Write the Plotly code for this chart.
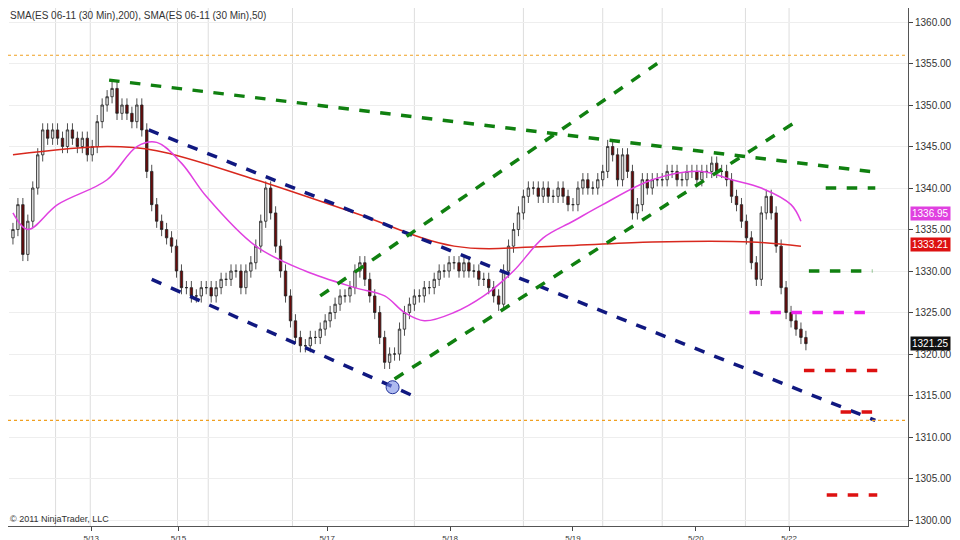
import plotly.graph_objects as go

closes = [1335,1338,1332,1336,1340,1344,1347,1346,1347,1346,1345,1347,1346,1345,1346,1344,1345,1348,1350,1351,
1352,1349,1350,1349,1348,1350,1347,1342,1338,1336,1335,1334,1333,1330,1328,1328,1327,1327,1328,1328,
1327,1328,1329,1329,1330,1330,1328,1330,1331,1333,1336,1340,1337,1333,1330,1327,1324,1322,1321,1321,
1322,1322,1323,1324,1325,1326,1327,1327,1328,1330,1331,1329,1327,1325,1322,1319,1320,1320,1323,1325,
1326,1327,1327,1328,1328,1329,1330,1330,1331,1331,1330,1331,1330,1330,1329,1329,1328,1327,1326,1330,
1333,1335,1337,1339,1340,1340,1339,1340,1339,1339,1340,1339,1338,1338,1340,1341,1340,1340,1341,1342,
1345,1344,1341,1344,1342,1337,1338,1341,1340,1341,1341,1341,1342,1342,1341,1341,1342,1342,1341,1342,
1342,1343,1342,1342,1341,1339,1338,1336,1334,1331,1329,1337,1339,1337,1333,1328,1325,1324,1323,1322,1321.25]
xpos = [5 + 5*i for i in range(len(closes))]
opens = [1334] + closes[:-1]
highs = [max(o, c) + 0.8 for o, c in zip(opens, closes)]
lows = [min(o, c) - 0.8 for o, c in zip(opens, closes)]

sma200_x = [5,100,150,250,350,450,550,650,750,800]
sma200_y = [1344,1345,1344.5,1341,1337,1333,1333,1333.5,1333.5,1333]
sma50_x = [5,20,50,100,130,150,175,200,250,300,350,380,400,420,450,480,510,540,570,600,650,700,730,760,790,800]
sma50_y = [1337,1335,1338,1341,1345,1345.5,1343,1339,1333,1330,1328,1327,1325,1324,1325,1327,1330,1334,1336,1338,1341,1342,1341,1340,1338,1336]

trend_lines = [  # x0,y0,x1,y1,color
    (102,1353,870,1342,'#108010'),
    (142,1347,875,1312,'#101880'),
    (145,1329,408,1315,'#101880'),
    (390,1317,795,1348,'#108010'),
    (315,1327,655,1355,'#108010'),
]
levels = [  # y, x0, x1, color
    (1365,835,872,'#108010'),
    (1340,825,875,'#108010'),
    (1330,808,872,'#108010'),
    (1325,748,875,'#ee22ee'),
    (1318,803,877,'#dd1111'),
    (1313,840,877,'#dd1111'),
    (1303,826,877,'#dd1111'),
]
tick_x = [84,172,322,446,570,694,788]
tick_text = ['5/13','5/15','5/17','5/18','5/19','5/20','5/22']
vgrid = [48,83,171,202,287,410,520,600,660,744,788]

fig = go.Figure()
fig.add_trace(go.Scatter(x=sma200_x, y=sma200_y, mode='lines', line=dict(color='#d8281e', width=1.5, shape='spline')))
fig.add_trace(go.Scatter(x=sma50_x, y=sma50_y, mode='lines', line=dict(color='#e040e0', width=1.5, shape='spline')))
fig.add_trace(go.Candlestick(x=xpos, open=opens, high=highs, low=lows, close=closes,
    increasing=dict(fillcolor='#e0e0e0', line=dict(color='#222', width=0.8)),
    decreasing=dict(fillcolor='#6a0a0a', line=dict(color='#222', width=0.8)),
    whiskerwidth=0))
for x0,y0,x1,y1,c in trend_lines:
    fig.add_trace(go.Scatter(x=[x0,x1], y=[y0,y1], mode='lines', line=dict(color=c, width=3.5, dash='dash')))
for y,x0,x1,c in levels:
    fig.add_trace(go.Scatter(x=[x0,x1], y=[y,y], mode='lines', line=dict(color=c, width=3.5, dash='dash')))
for y in [1356,1312]:
    fig.add_trace(go.Scatter(x=[0,908], y=[y,y], mode='lines', line=dict(color='#f0a020', width=1.2, dash='dot')))
fig.add_trace(go.Scatter(x=[388], y=[1316], mode='markers', marker=dict(size=13, color='rgba(120,140,230,0.6)', line=dict(color='#223399', width=1))))

for v in vgrid:
    fig.add_vline(x=v, line=dict(color='#dddddd', width=1), layer='below')

for y, txt, bg in [(1336.95,'1336.95','#e040e0'),(1333.21,'1333.21','#dd1111'),(1321.25,'1321.25','#111111')]:
    fig.add_annotation(x=1, xref='paper', y=y, yref='y', text=txt, showarrow=False, xanchor='left',
                       xshift=2, bgcolor=bg, font=dict(color='white', size=10, family='Liberation Sans'), borderpad=1)
fig.add_annotation(x=0, xref='paper', y=1, yref='paper', text='SMA(ES 06-11 (30 Min),200), SMA(ES 06-11 (30 Min),50)',
                   showarrow=False, xanchor='left', yanchor='top', font=dict(size=10, color='#333'), xshift=0)
fig.add_annotation(x=0, xref='paper', y=0, yref='paper', text='© 2011 NinjaTrader, LLC',
                   showarrow=False, xanchor='left', yanchor='bottom', font=dict(size=9, color='#333'), xshift=0)

fig.update_layout(width=960, height=540, margin=dict(l=0, r=60, t=0, b=22),
    paper_bgcolor='white', plot_bgcolor='white', showlegend=False,
    font=dict(family='Liberation Sans', size=10, color='#333'),
    xaxis=dict(range=[0,908], tickvals=tick_x, ticktext=tick_text, showgrid=False, rangeslider=dict(visible=False),
               ticks='outside', ticklen=4, tickfont=dict(size=8), showline=True, linecolor='#555'),
    yaxis=dict(range=[1299.28, 1361.69], side='right', dtick=5, tickformat='.2f', showgrid=True, gridcolor='#eeeeee',
               ticks='outside', ticklen=4, showline=True, linecolor='#555', zeroline=False))
fig.write_html('out.html')
